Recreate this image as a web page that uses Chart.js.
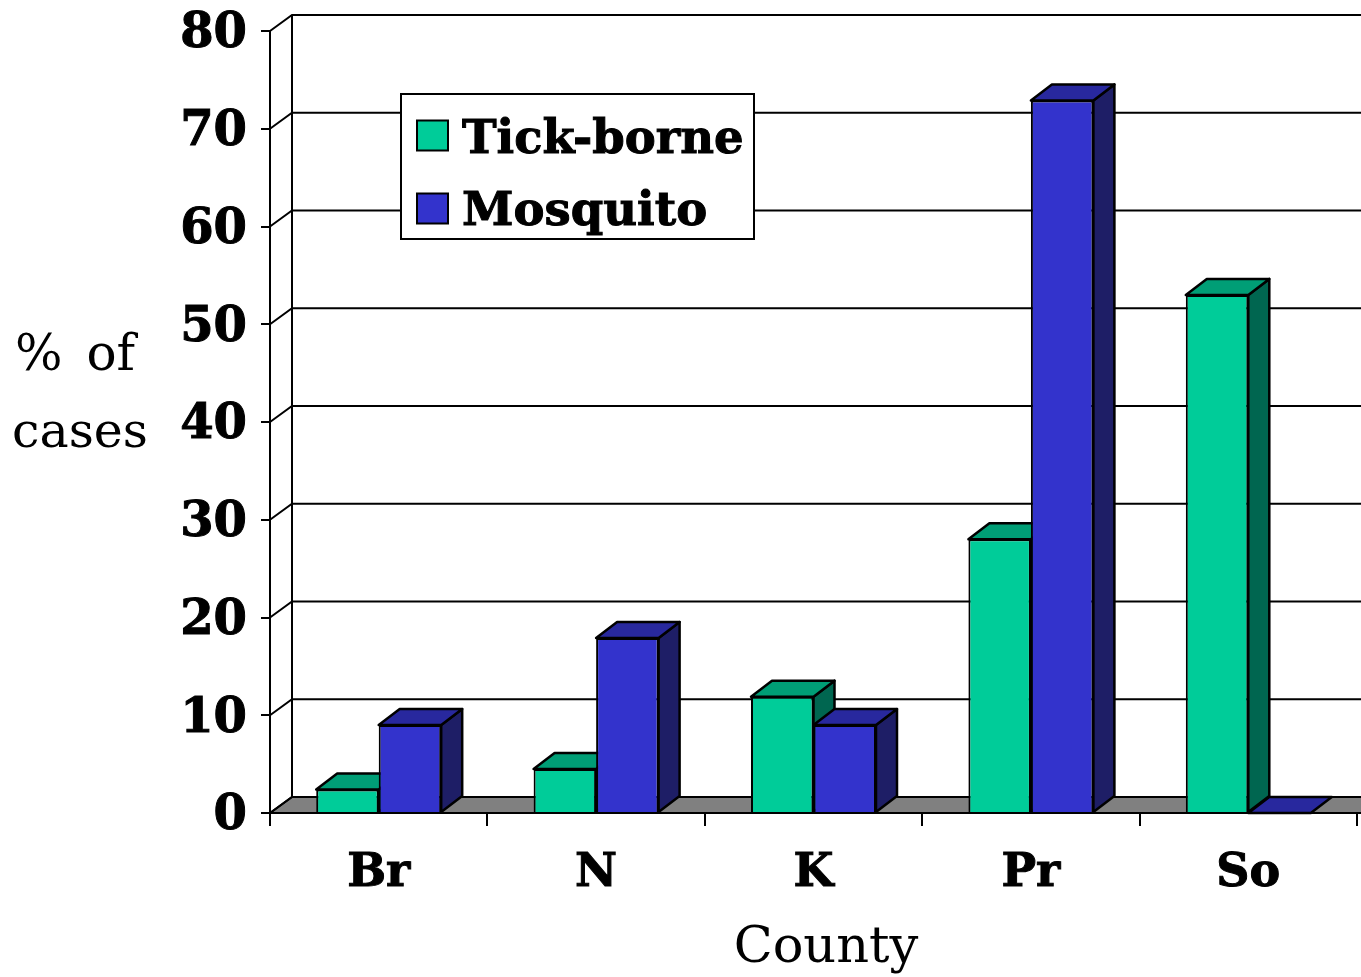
<!DOCTYPE html>
<html>
<head>
<meta charset="utf-8">
<script src="https://cdn.jsdelivr.net/npm/chart.js@4"></script>
<style>
  html, body { margin: 0; padding: 0; background: #fff; }
  canvas { display: block; }
</style>
</head>
<body>
<canvas id="chart" width="1361" height="977"></canvas>
<script>
const counties = ['Br', 'N', 'K', 'Pr', 'So'];
const tickBorne = [2.4, 4.5, 11.9, 28, 53];
const mosquito = [9, 17.9, 9, 72.9, 0];
const yTicks = [0, 10, 20, 30, 40, 50, 60, 70, 80];

// depth of the fake 3D box
const DX = 22, DY = -16, BAR_DX = 21;
const SERIF = '"DejaVu Serif"';

function poly(ctx, pts, fill) {
  ctx.beginPath();
  pts.forEach((p, i) => i ? ctx.lineTo(p[0], p[1]) : ctx.moveTo(p[0], p[1]));
  ctx.closePath();
  if (fill) { ctx.fillStyle = fill; ctx.fill(); }
  ctx.stroke();
}

const box3d = {
  id: 'box3d',
  // digits sit a little high on the tick with this font, nudge them down
  afterUpdate(chart) {
    chart.scales.y.getLabelItems().forEach(item => { item.options.translation[1] += 4; });
  },
  // back wall, floor and gridlines
  beforeDraw(chart) {
    const { ctx, chartArea: a, scales: { y } } = chart;
    ctx.save();
    ctx.strokeStyle = '#000';
    ctx.lineWidth = 2;
    poly(ctx, [[a.left, a.bottom], [a.left + DX, a.bottom + DY], [1380, a.bottom + DY], [1380, a.bottom]], '#808080');
    yTicks.forEach(v => {
      const py = y.getPixelForValue(v);
      ctx.beginPath();
      ctx.moveTo(a.left, py);
      ctx.lineTo(a.left + DX, py + DY);
      ctx.lineTo(1380, py + DY);
      ctx.stroke();
    });
    ctx.beginPath();
    ctx.moveTo(a.left + DX, y.getPixelForValue(80) + DY);
    ctx.lineTo(a.left + DX, a.bottom + DY);
    ctx.stroke();
    ctx.restore();
  },
  // top and side faces of every bar; the library then paints the fronts
  beforeDatasetsDraw(chart) {
    const { ctx } = chart;
    ctx.save();
    ctx.strokeStyle = '#000';
    ctx.lineWidth = 2.5;
    ctx.lineJoin = 'round';
    chart.data.datasets.forEach((ds, i) => {
      chart.getDatasetMeta(i).data.forEach(bar => {
        const l = bar.x - bar.width / 2, r = bar.x + bar.width / 2;
        const t = bar.y, b = bar.base;
        if (b - t > 0) poly(ctx, [[r, t], [r + BAR_DX, t + DY], [r + BAR_DX, b + DY], [r, b]], ds.sideColor);
        poly(ctx, [[l, t], [l + BAR_DX, t + DY], [r + BAR_DX, t + DY], [r, t]], ds.topColor);
      });
    });
    ctx.restore();
  },
  // legend box and the free-standing axis titles
  afterDraw(chart) {
    const { ctx } = chart;
    ctx.save();
    ctx.strokeStyle = '#000';
    ctx.lineWidth = 2;
    poly(ctx, [[401, 94], [754, 94], [754, 239], [401, 239]], '#fff');
    ctx.textBaseline = 'alphabetic';
    ctx.textAlign = 'left';
    chart.data.datasets.forEach((ds, i) => {
      const cy = 135.5 + i * 73;
      ctx.lineWidth = 2;
      poly(ctx, [[417, cy - 15], [448, cy - 15], [448, cy + 15], [417, cy + 15]], ds.backgroundColor);
      ctx.fillStyle = '#000';
      ctx.font = 'bold 46.5px ' + SERIF;
      ctx.lineWidth = 1;
      ctx.fillText(ds.label, 462, 153 + i * 72);
      ctx.strokeText(ds.label, 462, 153 + i * 72);
    });
    ctx.fillStyle = '#000';
    ctx.textAlign = 'center';
    ctx.font = '51px ' + SERIF;
    ctx.fillText('County', 826, 962);
    ctx.font = '50px ' + SERIF;
    ctx.wordSpacing = '8px';
    ctx.fillText('% of', 75, 370);
    ctx.wordSpacing = '0px';
    ctx.font = '49px ' + SERIF;
    ctx.fillText('cases', 80, 447);
    ctx.restore();
  }
};

new Chart(document.getElementById('chart'), {
  type: 'bar',
  data: {
    labels: counties,
    datasets: [
      { label: 'Tick-borne', data: tickBorne, backgroundColor: '#00CC99', topColor: '#009E76', sideColor: '#006650', borderColor: '#000', borderWidth: 2 },
      { label: 'Mosquito', data: mosquito, backgroundColor: '#3333CC', topColor: '#28289E', sideColor: '#1E1E66', borderColor: '#000', borderWidth: 2 }
    ]
  },
  options: {
    responsive: false,
    devicePixelRatio: 1,
    animation: false,
    layout: { padding: { top: 31, right: 4, left: 0, bottom: 0 } },
    categoryPercentage: 0.575,
    barPercentage: 1,
    scales: {
      x: {
        afterFit: s => { s.height = 164; },
        grid: { drawOnChartArea: false, color: '#000', lineWidth: 2, tickLength: 13 },
        border: { color: '#000', width: 2 },
        ticks: { color: '#000', font: { family: 'DejaVu Serif', size: 46, weight: 'bold' }, textStrokeWidth: 1, textStrokeColor: '#000', maxRotation: 0, autoSkip: false, padding: 20 }
      },
      y: {
        min: 0,
        max: 80,
        afterFit: s => { s.width = 270; s.paddingTop = 0; s.paddingBottom = 0; },
        afterBuildTicks: s => { s.ticks = yTicks.map(v => ({ value: v })); },
        grid: { drawOnChartArea: false, color: '#000', lineWidth: 2, tickLength: 9 },
        border: { color: '#000', width: 2 },
        ticks: { color: '#000', font: { family: 'DejaVu Serif', size: 48, weight: 'bold' }, textStrokeWidth: 1, textStrokeColor: '#000', padding: 14 }
      }
    },
    plugins: {
      legend: { display: false },
      tooltip: { enabled: false }
    }
  },
  plugins: [box3d]
});
</script>
</body>
</html>
